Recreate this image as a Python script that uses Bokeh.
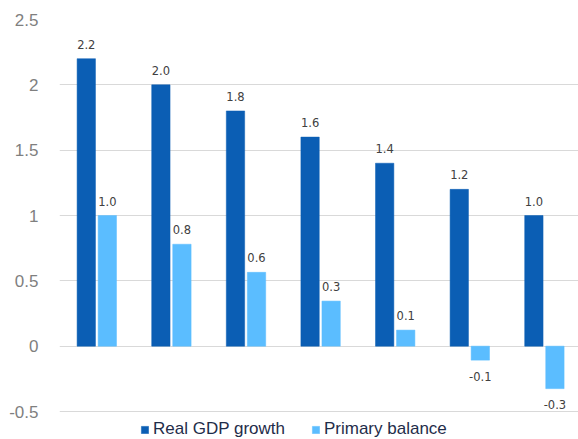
from bokeh.plotting import figure
from bokeh.models import (Range1d, FixedTicker, CustomJSTickFormatter, Legend,
                          LegendItem, ColumnDataSource)
from bokeh.transform import dodge
from bokeh.core.properties import value
from bokeh.embed import file_html
from bokeh.resources import INLINE

# ---- data ----
categories = ["1", "2", "3", "4", "5", "6", "7"]
gdp_growth = [2.2, 2.0, 1.8, 1.6, 1.4, 1.2, 1.0]
primary_balance = [1.0, 0.78, 0.565, 0.345, 0.123, -0.107, -0.325]
series_names = ["Real GDP growth", "Primary balance"]
y_ticks = [-0.5, 0, 0.5, 1, 1.5, 2, 2.5]

DARK = "#0B5EB4"
LIGHT = "#5BBDFF"

PX_PER_UNIT_Y = 392 / 3.0   # frame 19..411 covers -0.5..2.5
LEGEND_SPACE = 28           # px below the -0.5 line kept for the legend

idx = list(range(len(categories)))
src = ColumnDataSource(dict(
    x=idx,
    gdp=gdp_growth,
    pb=primary_balance,
    gdp_lbl=[f"{v:.1f}" for v in gdp_growth],
    pb_lbl=[f"{v:.1f}" for v in primary_balance],
    pb_off=[-14.5 if v >= 0 else 16 for v in primary_balance],
))

p = figure(width=578, height=439, output_backend="svg", toolbar_location=None,
           x_range=Range1d(-0.5, -0.5 + 519 / 74.6),
           y_range=Range1d(-0.5 - LEGEND_SPACE / PX_PER_UNIT_Y, 2.5),
           x_axis_location=None, min_border_left=59, min_border_right=0,
           min_border_top=19, min_border_bottom=0)
p.outline_line_color = None
p.background_fill_color = "white"
p.border_fill_color = "white"

BW = 0.246
OFF = 0.141
r1 = p.vbar(x=dodge("x", -OFF), top="gdp", bottom=0, width=BW, source=src,
            fill_color=DARK, line_color=DARK, line_width=0.5)
r2 = p.vbar(x=dodge("x", OFF), top="pb", bottom=0, width=BW, source=src,
            fill_color=LIGHT, line_color=LIGHT, line_width=0.5)

p.text(x=dodge("x", -OFF), y="gdp", text="gdp_lbl", source=src,
       text_align="center", text_baseline="middle", y_offset=-14.5,
       text_font=value("DejaVu Sans"), text_font_size="11.5px", text_color="#404040")
p.text(x=dodge("x", OFF), y="pb", text="pb_lbl", source=src,
       text_align="center", text_baseline="middle", y_offset="pb_off",
       text_font=value("DejaVu Sans"), text_font_size="11.5px", text_color="#404040")

p.xgrid.visible = False
p.ygrid.ticker = FixedTicker(ticks=y_ticks)
p.ygrid.grid_line_color = "#d9d9d9"
p.ygrid.grid_line_width = 1

ax = p.yaxis[0]
ax.ticker = FixedTicker(ticks=y_ticks)
ax.formatter = CustomJSTickFormatter(code="return String(tick)")
ax.axis_line_color = None
ax.major_tick_line_color = None
ax.minor_tick_line_color = None
ax.major_label_standoff = 15
ax.major_label_text_font = "Liberation Sans"
ax.major_label_text_font_size = "17px"
ax.major_label_text_color = "#7f7f7f"

legend = Legend(items=[LegendItem(label=series_names[0], renderers=[r1]),
                       LegendItem(label=series_names[1], renderers=[r2])],
                orientation="horizontal", location=(81, 0),
                glyph_width=9, glyph_height=9, label_standoff=4, spacing=26,
                padding=0, margin=0, border_line_color=None,
                background_fill_alpha=0,
                label_text_font="Liberation Sans", label_text_font_size="17px",
                label_text_color="#1f2d4a")
p.add_layout(legend, "center")

open("out.html", "w").write(file_html(p, INLINE))
